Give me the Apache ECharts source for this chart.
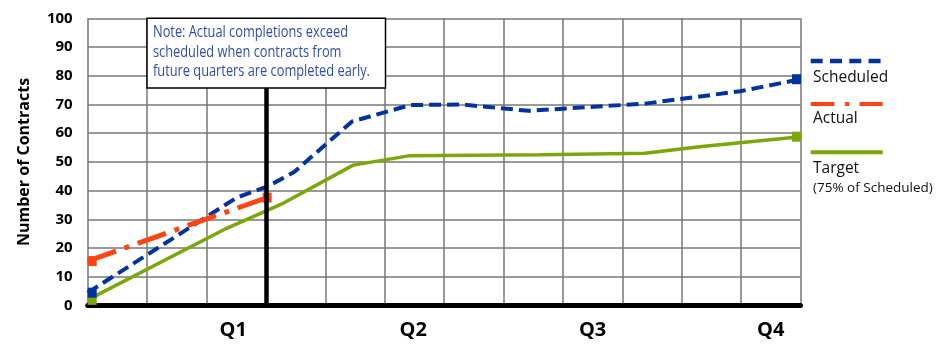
<!DOCTYPE html>
<html><head><meta charset="utf-8">
<script src="https://cdn.jsdelivr.net/npm/echarts@6/dist/echarts.min.js"></script>
<style>html,body{margin:0;padding:0;background:#fff}#chart{width:948px;height:348px}</style>
</head><body><div id="chart"></div>
<script>
// ---- data ----
const seriesNames = ['Scheduled', 'Actual', 'Target'];
const targetSubLabel = '(75% of Scheduled)';
const yAxisTitle = 'Number of Contracts';
const schedX = [0, 2.51, 3.02, 3.47, 4.45, 5.43, 6.3, 7.42, 9.38, 10.98, 12];
const schedY = [4.5, 37.6, 41.4, 46.4, 64.1, 69.8, 70.0, 67.8, 70.3, 74.6, 78.8];
const actualX = [0, 3.02];
const actualY = [15.5, 37.6];
const targetX = [0, 2.34, 3.29, 4.47, 5.43, 7.62, 9.38, 10.3, 12];
const targetY = [2.0, 26.9, 35.6, 48.9, 52.2, 52.5, 53.0, 55.3, 58.8];
const quarterLabels = ['Q1', 'Q2', 'Q3', 'Q4'];
const quarterLabelPos = [2.45, 5.48, 8.5, 11.5];
const quarterEnd = 3;
const yMin = 0, yMax = 100, yStep = 10;
const xMin = 0, xMax = 12, xStep = 1;
const noteLines = ['Note: Actual completions exceed', 'scheduled when contracts from', 'future quarters are completed early.'];

// ---- styles ----
const C_SCHED = '#0033a0', C_ACT = '#ff4411', C_TGT = '#7aa80a';
const FONT = '"Open Sans", "DejaVu Sans", sans-serif';

function withEndMarkers(xs, ys, startOff, endOff) {
  return xs.map((x, i) => {
    const item = { value: [x, ys[i]] };
    if (i === 0 || i === xs.length - 1) {
      item.symbol = 'rect';
      item.symbolSize = [9, 10];
      item.symbolOffset = i === 0 ? startOff : endOff;
    } else {
      item.symbol = 'none';
    }
    return item;
  });
}

const chart = echarts.init(document.getElementById('chart'), null, { renderer: 'canvas' });
const gridStyle = { color: '#777', width: 1.5 };

const option = {
  animation: false,
  backgroundColor: '#fff',
  grid: { left: 87.7, right: 147.5, top: 18.3, bottom: 42.4, containLabel: false },
  xAxis: {
    type: 'value', min: xMin, max: xMax, interval: xStep,
    axisLine: { show: true, onZero: false, lineStyle: { color: '#000', width: 5 } },
    axisTick: { show: false },
    splitLine: { show: true, lineStyle: gridStyle },
    axisLabel: {
      customValues: quarterLabelPos,
      formatter: v => { const i = quarterLabelPos.findIndex(p => Math.abs(p - v) < 1e-6); return i >= 0 ? quarterLabels[i] : ''; },
      fontFamily: FONT, fontSize: 20, fontWeight: 'bold', color: '#000', margin: 15
    }
  },
  yAxis: {
    type: 'value', min: yMin, max: yMax, interval: yStep,
    name: yAxisTitle, nameLocation: 'middle', nameGap: 55,
    nameTextStyle: { fontFamily: FONT, fontSize: 16, fontWeight: 'bold', color: '#000' },
    axisLine: { show: false },
    axisTick: { show: false },
    splitLine: { show: true, lineStyle: gridStyle },
    axisLabel: { fontFamily: FONT, fontSize: 15, fontWeight: 'bold', color: '#000', margin: 15 }
  },
  series: [
    {
      type: 'line', name: 'quarter-divider', data: [], silent: true,
      markLine: {
        silent: true, symbol: ['none', 'none'], label: { show: false },
        lineStyle: { color: '#000', width: 4.5, type: 'solid' },
        emphasis: { disabled: true },
        data: [{ xAxis: quarterEnd }]
      }
    },
    {
      type: 'line', name: seriesNames[2], silent: true,
      data: withEndMarkers(targetX, targetY, [4.5, 0], [-4, 0]),
      showSymbol: true, showAllSymbol: true,
      lineStyle: { color: C_TGT, width: 3.5 }, itemStyle: { color: C_TGT },
      emphasis: { disabled: true }
    },
    {
      type: 'line', name: seriesNames[0], silent: true,
      data: withEndMarkers(schedX, schedY, [4.5, 0], [-4, 0]),
      showSymbol: true, showAllSymbol: true,
      lineStyle: { color: C_SCHED, width: 4, type: [12, 6] }, itemStyle: { color: C_SCHED },
      emphasis: { disabled: true }
    },
    {
      type: 'line', name: seriesNames[1], silent: true,
      data: withEndMarkers(actualX, actualY, [4.5, 0], [0, 0]),
      showSymbol: true, showAllSymbol: true,
      lineStyle: { color: C_ACT, width: 5, type: [30, 9, 5, 9] }, itemStyle: { color: C_ACT },
      emphasis: { disabled: true }
    }
  ],
  graphic: [
    // note box
    { type: 'rect', z: 100, shape: { x: 147, y: 18.3, width: 238.5, height: 69.7 },
      style: { fill: '#fff', stroke: '#000', lineWidth: 1.5 } },
    { type: 'text', z: 101, x: 153, y: 22.5, scaleX: 0.8,
      style: { text: noteLines.join('\n'), fontFamily: FONT, fontSize: 16, lineHeight: 19.7,
               fill: '#2f4db0', textVerticalAlign: 'top', verticalAlign: 'top', align: 'left' } },
    // legend
    { type: 'line', z: 100, shape: { x1: 810.7, y1: 61, x2: 882.7, y2: 61 },
      style: { stroke: C_SCHED, lineWidth: 4.5, lineDash: [12, 7.3] } },
    { type: 'text', z: 100, x: 813, y: 77.3,
      style: { text: seriesNames[0], fontFamily: FONT, fontSize: 15.5, fill: '#111', verticalAlign: 'middle' } },
    { type: 'line', z: 100, shape: { x1: 810.7, y1: 104, x2: 882.7, y2: 104 },
      style: { stroke: C_ACT, lineWidth: 4, lineDash: [23.7, 10.5, 4.3, 10.3] } },
    { type: 'text', z: 100, x: 813, y: 119,
      style: { text: seriesNames[1], fontFamily: FONT, fontSize: 15.5, fill: '#111', verticalAlign: 'middle' } },
    { type: 'line', z: 100, shape: { x1: 810.7, y1: 152.3, x2: 882.7, y2: 152.3 },
      style: { stroke: C_TGT, lineWidth: 4 } },
    { type: 'text', z: 100, x: 813, y: 168.3,
      style: { text: seriesNames[2], fontFamily: FONT, fontSize: 15.5, fill: '#111', verticalAlign: 'middle' } },
    { type: 'text', z: 100, x: 813, y: 187.7,
      style: { text: targetSubLabel, fontFamily: FONT, fontSize: 13.5, fill: '#111', verticalAlign: 'middle' } }
  ]
};
chart.setOption(option);
</script>
</body></html>
